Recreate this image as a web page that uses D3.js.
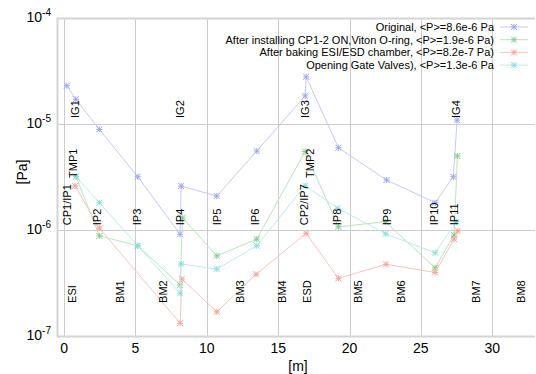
<!DOCTYPE html>
<html>
<head>
<meta charset="utf-8">
<script src="https://cdn.jsdelivr.net/npm/d3@7"></script>
<style>
  body { margin: 0; background: #fff; }
  text { font-family: "Liberation Sans", Arial, sans-serif; fill: #000; }
</style>
</head>
<body>
<script>
// series: position along beamline [m] and pressure [Pa]
var originalPos = [0.19, 0.82, 2.47, 5.16, 8.13, 8.2, 10.7, 13.5, 16.89, 16.96, 19.22, 22.6, 26.0, 27.28, 27.54];
var originalP   = [2.3e-5, 1.71e-5, 8.9e-6, 3.18e-6, 9.1e-7, 2.6e-6, 2.09e-6, 5.56e-6, 1.84e-5, 2.79e-5, 5.97e-6, 2.96e-6, 1.81e-6, 3.18e-6, 1.09e-5];

var cpOnPos = [0.84, 2.47, 5.16, 8.13, 8.3, 10.7, 13.5, 16.89, 19.22, 22.5, 26.0, 27.33, 27.56];
var cpOnP   = [3.18e-6, 8.8e-7, 7.1e-7, 3.03e-7, 1.3e-6, 5.7e-7, 8.2e-7, 5.5e-6, 1.07e-6, 1.2e-6, 4.4e-7, 8.97e-7, 4.99e-6];

var bakedPos = [0.77, 2.47, 8.13, 8.25, 10.7, 13.45, 16.96, 19.22, 22.56, 26.0, 27.33, 27.59];
var bakedP   = [2.6e-6, 1.04e-6, 1.32e-7, 3.45e-7, 1.69e-7, 3.82e-7, 9.3e-7, 3.5e-7, 4.75e-7, 3.98e-7, 8.2e-7, 9.8e-7];

var gvPos = [0.84, 2.47, 5.16, 8.13, 8.2, 10.7, 13.5, 16.89, 19.18, 22.54, 26.0, 27.5];
var gvP   = [3.18e-6, 1.81e-6, 7.1e-7, 2.53e-7, 4.78e-7, 4.28e-7, 7.1e-7, 2.62e-6, 1.6e-6, 9.2e-7, 6.1e-7, 1.2e-6];

var seriesNames = [
  "Original, <P>=8.6e-6 Pa",
  "After installing CP1-2 ON,Viton O-ring, <P>=1.9e-6 Pa)",
  "After baking ESI/ESD chamber, <P>=8.2e-7 Pa)",
  "Opening Gate Valves), <P>=1.3e-6 Pa"
];

// component labels: name, position [m]
var gaugeNames = ["IG1", "IG2", "IG3", "IG4"];
var gaugePos   = [0.77, 8.13, 16.9, 27.5];
var tmpNames = ["TMP1", "TMP2"];
var tmpPos   = [0.63, 17.2];
var pumpNames = ["CP1/IP1", "IP2", "IP3", "IP4", "IP5", "IP6", "CP2/IP7", "IP8", "IP9", "IP10", "IP11"];
var pumpPos   = [0.2, 2.3, 5.1, 8.1, 10.7, 13.4, 16.8, 19.1, 22.6, 25.9, 27.3];
var magnetNames = ["ESI", "BM1", "BM2", "BM3", "BM4", "ESD", "BM5", "BM6", "BM7", "BM8"];
var magnetPos   = [0.56, 3.9, 6.9, 12.3, 15.3, 17.0, 20.6, 23.6, 28.9, 32.0];

var xTicks = [0, 5, 10, 15, 20, 25, 30];
var yExps = [-4, -5, -6, -7];

window.onload = function() {
    var width = 536, height = 374;
    var svg = d3.select("body").append("svg")
        .attr("width", width)
        .attr("height", height);

    var x = d3.scaleLinear().domain([-0.5, 33]).range([57, 535]);
    var y = d3.scaleLog().domain([1e-7, 1e-4]).range([336, 18]);

    // pale gnuplot-like colours
    var colors = [
        {line: "#c4caf6", mark: "#9ca6f6"},
        {line: "#bde2bd", mark: "#86cc8c"},
        {line: "#f6c6bc", mark: "#f4a494"},
        {line: "#bdeaea", mark: "#8adede"}
    ];

    // grid
    var grid = svg.append("g").attr("stroke", "#cccccc").attr("stroke-width", 1);
    xTicks.forEach(function(t) {
        grid.append("line")
            .attr("x1", Math.round(x(t)) + 0.5).attr("x2", Math.round(x(t)) + 0.5)
            .attr("y1", 18).attr("y2", 336);
    });
    yExps.forEach(function(e) {
        grid.append("line")
            .attr("x1", 57).attr("x2", 535)
            .attr("y1", Math.round(y(Math.pow(10, e))) + 0.5)
            .attr("y2", Math.round(y(Math.pow(10, e))) + 0.5);
    });

    // frame
    svg.append("path")
        .attr("d", "M535,18.5H57.5V336.5H535")
        .attr("fill", "none")
        .attr("stroke", "#d4d4d4")
        .attr("stroke-width", 2);

    // x tick labels
    svg.append("g").selectAll("text")
        .data(xTicks).enter().append("text")
        .attr("x", function(d) { return x(d); })
        .attr("y", 353)
        .attr("text-anchor", "middle")
        .style("font-size", "14px")
        .text(function(d) { return d; });

    // y tick labels 10^e
    var yl = svg.append("g").selectAll("text")
        .data(yExps).enter().append("text")
        .attr("x", 51)
        .attr("y", function(d) { return y(Math.pow(10, d)) + 4; })
        .attr("text-anchor", "end")
        .style("font-size", "14px");
    yl.append("tspan").text("10");
    yl.append("tspan")
        .attr("dy", -6)
        .style("font-size", "10px")
        .text(function(d) { return "-" + Math.abs(d); });

    // axis titles
    svg.append("text")
        .attr("transform", "translate(27,172) rotate(-90)")
        .attr("text-anchor", "middle")
        .style("font-size", "14px")
        .text("[Pa]");
    svg.append("text")
        .attr("x", 298).attr("y", 371)
        .attr("text-anchor", "middle")
        .style("font-size", "14px")
        .text("[m]");

    // component labels, rotated
    function addLabels(names, pos, p) {
        svg.append("g").selectAll("text")
            .data(names).enter().append("text")
            .attr("transform", function(d, i) {
                return "translate(" + x(pos[i]) + "," + y(p) + ") rotate(-90)";
            })
            .attr("dy", "0.36em")
            .style("font-size", "11px")
            .text(function(d) { return d; });
    }

    // star marker like gnuplot point type 3
    function star(s) {
        return "M" + (-s) + ",0H" + s + "M0," + (-s) + "V" + s +
            "M" + (-s) + "," + (-s) + "L" + s + "," + s +
            "M" + (-s) + "," + s + "L" + s + "," + (-s);
    }

    var allSeries = [
        [originalPos, originalP],
        [cpOnPos, cpOnP],
        [bakedPos, bakedP],
        [gvPos, gvP]
    ];

    var line = d3.line()
        .x(function(d) { return x(d[0]); })
        .y(function(d) { return y(d[1]); });

    allSeries.forEach(function(s, k) {
        var pts = s[0].map(function(m, i) { return [m, s[1][i]]; });
        svg.append("path")
            .datum(pts)
            .attr("d", line)
            .attr("fill", "none")
            .attr("stroke", colors[k].line)
            .attr("stroke-width", 1);
        svg.append("g").selectAll("path")
            .data(pts).enter().append("path")
            .attr("transform", function(d) { return "translate(" + x(d[0]) + "," + y(d[1]) + ")"; })
            .attr("d", star(3))
            .attr("fill", "none")
            .attr("stroke", colors[k].mark)
            .attr("stroke-width", 1);
    });

    // labels drawn over the data, as in the original
    addLabels(gaugeNames, gaugePos, 1.14e-5);
    addLabels(tmpNames, tmpPos, 3.1e-6);
    addLabels(pumpNames, pumpPos, 1.11e-6);
    addLabels(magnetNames, magnetPos, 2.05e-7);

    // legend
    var legend = svg.append("g");
    seriesNames.forEach(function(name, k) {
        var ly = 27 + k * 12.7;
        legend.append("text")
            .attr("x", 494).attr("y", ly + 4)
            .attr("text-anchor", "end")
            .style("font-size", "11px")
            .text(name);
        legend.append("line")
            .attr("x1", 500).attr("x2", 528)
            .attr("y1", ly).attr("y2", ly)
            .attr("stroke", colors[k].line);
        legend.append("path")
            .attr("transform", "translate(514," + ly + ")")
            .attr("d", star(3))
            .attr("fill", "none")
            .attr("stroke", colors[k].mark);
    });
}
</script>
</body>
</html>
